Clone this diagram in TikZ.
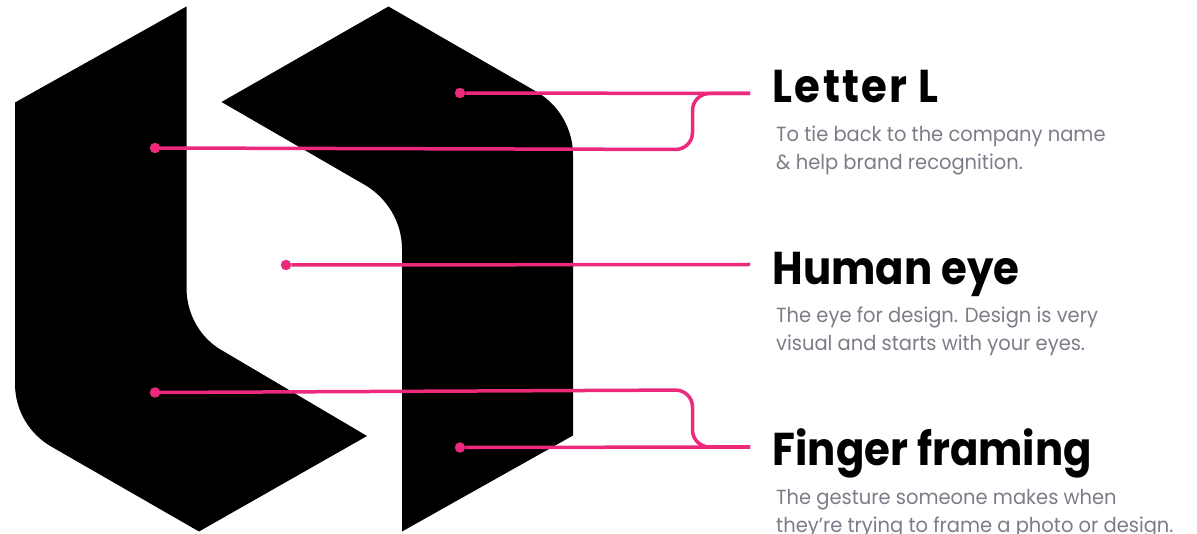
\documentclass[tikz,border=0pt]{standalone}
\usepackage{fontspec}
\setmainfont{Poppins}
\newfontfamily\titlefont[FakeStretch=0.91]{Poppins}
\newfontfamily\titlewide[FakeStretch=0.91,LetterSpace=5]{Poppins}
\newfontfamily\bodyfont[FakeStretch=0.95]{Poppins}
\definecolor{pinkline}{HTML}{EC297B}
\definecolor{bodygrey}{HTML}{7B7E88}
\tikzset{
  every picture/.style={x=1pt,y=-1pt},
  mark shape/.style={fill=black,draw=none},
  connector/.style={draw=pinkline,line width=3.5pt},
  elbow/.style={connector,rounded corners=17pt},
  dotnode/.style={circle,fill=pinkline,draw=none,minimum size=10.5pt,inner sep=0pt},
  title/.style={anchor=base west,inner sep=0pt,font=\titlefont\fontsize{46}{46}\selectfont\bfseries,text=black},
  body/.style={anchor=base west,inner sep=0pt,font=\bodyfont\fontsize{20.5}{20.5}\selectfont,text=bodygrey},
}
\begin{document}
\begin{tikzpicture}
\useasboundingbox (0,0) rectangle (1197,534);
\clip (0,0) rectangle (1197,534);
\fill[white] (0,0) rectangle (1197,534);
% left mark
\path[mark shape] (15,102.5) -- (186.5,6.5) -- (186.5,288)
  .. controls (186.5,315) and (201,339) .. (223,351)
  -- (367,436) -- (199,531.5) -- (52,447)
  .. controls (29,434) and (15,410) .. (15,384) -- cycle;
% right mark
\path[mark shape] (221.5,102) -- (388.5,6.5) -- (537,92)
  .. controls (559,105) and (573,129) .. (573,155)
  -- (573,435.5) -- (402,531.5) -- (402,249)
  .. controls (402,222) and (387,198) .. (365,185) -- cycle;
% dots and free ends
\node[dotnode] (d1) at (460,93) {};
\node[dotnode] (d2) at (155,148) {};
\node[dotnode] (d3) at (286,265) {};
\node[dotnode] (d4) at (155,392.5) {};
\node[dotnode] (d5) at (460,447.5) {};
\coordinate (e1) at (750,93.5);
\coordinate (e2) at (750,264.5);
\coordinate (e3) at (750,447);
\coordinate (k1) at (692.5,149.5);
\coordinate (k2) at (692.5,93.5);
\coordinate (k3) at (692.5,390);
\coordinate (k4) at (692.5,447);
% connectors
\draw[connector] (d1) -- (e1);
\draw[elbow] (d2.center) -- (k1) -- (k2) -- (e1);
\draw[connector] (d3) -- (e2);
\draw[elbow] (d4.center) -- (k3) -- (k4) -- (e3);
\draw[connector] (d5) -- (e3);
% labels
\node[title,font=\titlewide\fontsize{46}{46}\selectfont\bfseries] (t1) at (772.5,103) {Letter L};
\node[body] (b1a) at (776,142) {To tie back to the company name};
\node[body] (b1b) at (776,170) {\& help brand recognition.};
\node[title] (t2) at (772.5,284.5) {Human eye};
\node[body] (b2a) at (776,323) {The eye for design. Design is very};
\node[body] (b2b) at (776,351) {visual and starts with your eyes.};
\node[title] (t3) at (772.5,465) {Finger framing};
\node[body] (b3a) at (776,504) {The gesture someone makes when};
\node[body] (b3b) at (776,532) {they’re trying to frame a photo or design.};
\end{tikzpicture}
\end{document}
